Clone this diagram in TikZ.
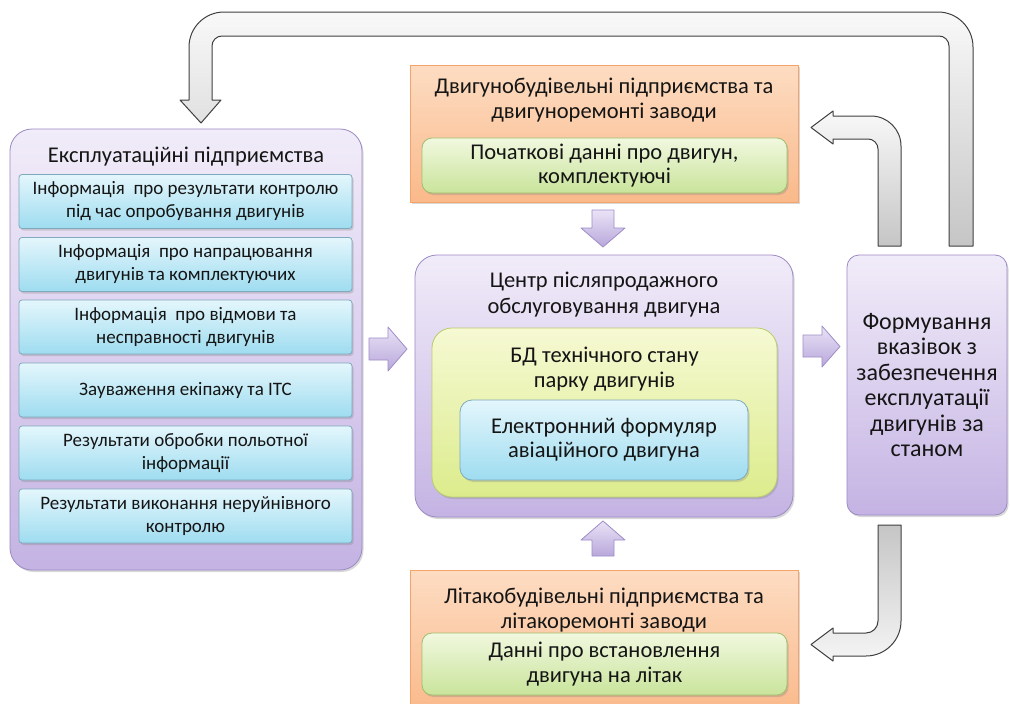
\documentclass[tikz,border=0pt]{standalone}
\usepackage{fontspec}
\setmainfont{Carlito}
\usetikzlibrary{shadows}
\definecolor{pTop}{HTML}{F1ECF9}
\definecolor{pBot}{HTML}{C4B3E3}
\definecolor{pEdge}{HTML}{9C8AC4}
\definecolor{bTop}{HTML}{E4F6FC}
\definecolor{bBot}{HTML}{9EDCF0}
\definecolor{bEdge}{HTML}{7FA9BC}
\definecolor{oTop}{HTML}{FDDCC2}
\definecolor{oBot}{HTML}{FAB98A}
\definecolor{oEdge}{HTML}{F4A46A}
\definecolor{gTop}{HTML}{F1F8DF}
\definecolor{gBot}{HTML}{C9E49B}
\definecolor{gEdge}{HTML}{9FBF6E}
\definecolor{yTop}{HTML}{F6F9D3}
\definecolor{yBot}{HTML}{DCEC8C}
\definecolor{yEdge}{HTML}{B9CD6A}
\definecolor{txt}{HTML}{151515}
\definecolor{aTop}{HTML}{EAE3F6}
\definecolor{aBot}{HTML}{B8A7DB}
\definecolor{aEdge}{HTML}{9E8DC8}
\tikzset{
  box/.style={draw, line width=0.8pt, inner sep=0pt, anchor=center, text=txt, align=center,
    drop shadow={shadow xshift=1.5pt,shadow yshift=-2pt,opacity=0.3}},
  purplebox/.style={box, draw=pEdge, top color=pTop, bottom color=pBot, rounded corners=22pt},
  bluebox/.style={box, draw=bEdge, top color=bTop, bottom color=bBot, rounded corners=3pt},
  cbluebox/.style={box, draw=bEdge, top color=bTop, bottom color=bBot, rounded corners=12pt},
  orangebox/.style={box, draw=oEdge, top color=oTop, bottom color=oBot},
  greenbox/.style={box, draw=gEdge, top color=gTop, bottom color=gBot, rounded corners=10pt},
  ybox/.style={box, draw=yEdge, top color=yTop, bottom color=yBot, rounded corners=20pt},
  lbl/.style={text=txt, align=center, inner sep=0pt, font=\fontsize{22.5}{25}\selectfont},
  smalltxt/.style={font=\fontsize{19}{23}\selectfont},
  bigtxt/.style={font=\fontsize{22.5}{24.5}\selectfont},
  grayarrow/.style={draw=black!75, line width=1pt, line join=round},
  purparrow/.style={draw=aEdge, line width=0.8pt, top color=aTop, bottom color=aBot, line join=round}
}
\begin{document}
\begin{tikzpicture}[x=1pt,y=-1pt]
\useasboundingbox (0,0) rectangle (1010,704);
\fill[white] (0,0) rectangle (1010,704);

% gray bent arrows
\path[grayarrow, top color=gray!5, bottom color=gray!45]
  (973,246) -- (973,47) arc[start angle=0,end angle=-90,radius=35]
  -- (224,12) arc[start angle=-90,end angle=-180,radius=35]
  -- (189,100) -- (180,100) -- (201,123) -- (221,100) -- (212,100)
  -- (212,46) arc[start angle=180,end angle=270,radius=10]
  -- (939,36) arc[start angle=270,end angle=360,radius=10]
  -- (949,246) -- cycle;
\path[grayarrow, top color=gray!5, bottom color=gray!45]
  (901,246) -- (901,146) arc[start angle=0,end angle=-90,radius=30]
  -- (833,116) -- (833,111) -- (811,127.5) -- (833,144) -- (833,139)
  -- (868,139) arc[start angle=-90,end angle=0,radius=10]
  -- (878,246) -- cycle;
\path[grayarrow, top color=gray!45, bottom color=gray!8]
  (878,525) -- (901,525) -- (901,621) arc[start angle=0,end angle=90,radius=35]
  -- (833,656) -- (833,661) -- (811,644.5) -- (833,628) -- (833,633)
  -- (866,633) arc[start angle=90,end angle=0,radius=12]
  -- cycle;

% left column
\node[purplebox, minimum width=352pt, minimum height=441pt] (expl) at (186,349.5) {};
\node[lbl] (explT) at (186,157) {Експлуатаційні підприємства};
\node[bluebox, smalltxt, minimum width=333pt, minimum height=54pt] (i1) at (185.5,201.5)
  {Інформація\ \ про результати контролю\\під час опробування двигунів};
\node[bluebox, smalltxt, minimum width=333pt, minimum height=54pt] (i2) at (185.5,264.5)
  {Інформація\ \ про напрацювання\\двигунів та комплектуючих};
\node[bluebox, smalltxt, minimum width=333pt, minimum height=54pt] (i3) at (185.5,327)
  {Інформація\ \ про відмови та\\несправності двигунів};
\node[bluebox, smalltxt, minimum width=333pt, minimum height=54pt] (i4) at (185.5,390)
  {Зауваження екіпажу та ІТС};
\node[bluebox, smalltxt, minimum width=333pt, minimum height=54pt] (i5) at (185.5,453)
  {Результати обробки польотної\\інформації};
\node[bluebox, smalltxt, minimum width=333pt, minimum height=54pt] (i6) at (185.5,516)
  {Результати виконання неруйнівного\\контролю};

% top orange
\node[orangebox, minimum width=388pt, minimum height=137pt] (dvz) at (604,133.5) {};
\node[lbl] (dvzT) at (604,100.5) {Двигунобудівельні підприємства та\\двигуноремонті заводи};
\node[greenbox, bigtxt, minimum width=365pt, minimum height=55pt] (poch) at (604.5,165.5)
  {Початкові данні про двигун,\\комплектуючі};

% center
\node[purplebox, minimum width=378pt, minimum height=262pt] (cent) at (604,386) {};
\node[lbl, font=\fontsize{22.5}{26}\selectfont] (centT) at (604,295) {Центр післяпродажного\\обслуговування двигуна};
\node[ybox, minimum width=345pt, minimum height=169pt] (bd) at (604.5,412.5) {};
\node[lbl] (bdT) at (604.5,369.5) {БД технічного стану\\парку двигунів};
\node[cbluebox, font=\fontsize{22.5}{24}\selectfont, minimum width=288pt, minimum height=80pt] (ef) at (604,440)
  {Електронний формуляр\\авіаційного двигуна};

% bottom orange
\node[orangebox, minimum width=388pt, minimum height=145pt] (lit) at (604,642.5) {};
\node[lbl] (litT) at (604,610.5) {Літакобудівельні підприємства та\\літакоремонті заводи};
\node[greenbox, bigtxt, minimum width=365pt, minimum height=62pt] (dani) at (604.5,664)
  {Данні про встановлення\\двигуна на літак};

% right
\node[purplebox, rounded corners=12pt, font=\fontsize{24}{25.5}\selectfont, minimum width=160pt, minimum height=260pt] (form) at (927,385)
  {Формування\\вказівок з\\забезпечення\\експлуатації\\двигунів за\\станом};

% purple block arrows
\path[purparrow] (369,338) -- (388,338) -- (388,327) -- (407,349) -- (388,371) -- (388,360) -- (369,360) -- cycle;
\path[purparrow] (803,335) -- (822,335) -- (822,326) -- (840,346.5) -- (822,367) -- (822,357) -- (803,357) -- cycle;
\path[purparrow] (592,210) -- (614,210) -- (614,228) -- (625,228) -- (603,247) -- (581,228) -- (592,228) -- cycle;
\path[purparrow] (592,556) -- (614,556) -- (614,540) -- (625,540) -- (603,521) -- (581,540) -- (592,540) -- cycle;
\end{tikzpicture}
\end{document}
